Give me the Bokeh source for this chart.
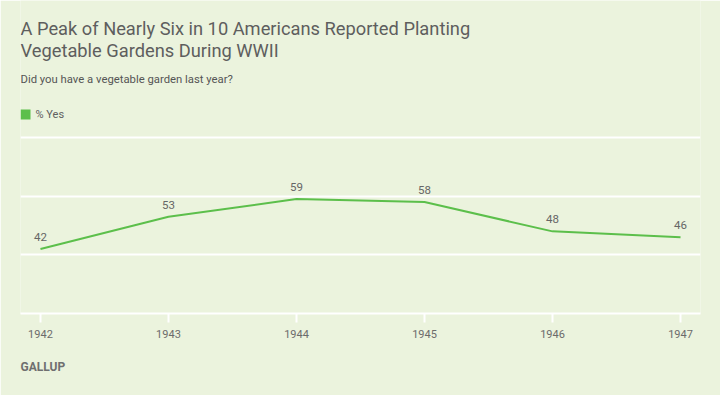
from bokeh.plotting import figure
from bokeh.models import Range1d, FixedTicker, Label, ColumnDataSource, Title, BoxAnnotation
from bokeh.core.properties import value
from bokeh.embed import file_html
from bokeh.resources import INLINE

years = [1942, 1943, 1944, 1945, 1946, 1947]
pct_yes = [42, 53, 59, 58, 48, 46]
y_ticks = [20, 40, 60, 80]
title_lines = ["A Peak of Nearly Six in 10 Americans Reported Planting",
               "Vegetable Gardens During WWII"]
subtitle = "Did you have a vegetable garden last year?"
series_name = "% Yes"
source_name = "GALLUP"

BG = "#EBF3DD"
GREEN = "#5CBF4B"
FONT = "Roboto"

W, H = 720, 395
FRAME_H = 313          # frame from canvas top down to the axis line
GRID_TOP_PX = 137      # pixel position of the top gridline
y_end = y_ticks[-1] + GRID_TOP_PX * (y_ticks[-1] - y_ticks[0]) / (FRAME_H - GRID_TOP_PX)
pad = 0.156

p = figure(width=W, height=H, output_backend="svg", toolbar_location=None,
           x_range=Range1d(years[0] - pad, years[-1] + pad),
           y_range=Range1d(y_ticks[0], y_end),
           min_border_left=20, min_border_right=20, min_border_top=0,
           min_border_bottom=H - FRAME_H)
p.background_fill_color = BG
p.border_fill_color = BG
p.outline_line_color = None

p.xgrid.visible = False
p.yaxis.visible = False
p.ygrid.ticker = FixedTicker(ticks=y_ticks)
p.ygrid.grid_line_color = "white"
p.ygrid.grid_line_width = 2

p.xaxis.ticker = FixedTicker(ticks=years)
p.xaxis.axis_line_color = "white"
p.xaxis.axis_line_width = 2
p.xaxis.major_tick_line_color = "white"
p.xaxis.major_tick_line_width = 2
p.xaxis.major_tick_in = 0
p.xaxis.major_tick_out = 9
p.xaxis.minor_tick_line_color = None
p.xaxis.major_label_standoff = 7
p.xaxis.major_label_text_font = FONT
p.xaxis.major_label_text_font_size = "11px"
p.xaxis.major_label_text_color = "#6b6b6b"

p.add_layout(Title(text=source_name, align="left", text_font=FONT, text_font_size="12px",
                   text_color="#6f6f6f", text_font_style="bold", standoff=34), "below")

src = ColumnDataSource(dict(x=years, y=pct_yes, t=[str(v) for v in pct_yes]))
p.line("x", "y", source=src, line_color=GREEN, line_width=2)
p.text("x", "y", text="t", source=src, text_align="center", text_baseline="bottom",
       y_offset=-8, text_font_size="11.5px", text_color="#666666", text_font=value(FONT))

# legend: swatch + label
p.add_layout(BoxAnnotation(left=20, right=30, top=109, bottom=119,
                           left_units="canvas", right_units="canvas",
                           top_units="canvas", bottom_units="canvas",
                           fill_color=GREEN, fill_alpha=1, line_color=None))
p.add_layout(Label(x=35, y=114, x_units="canvas", y_units="canvas", text=series_name,
                   text_font=FONT, text_font_size="11px", text_color="#606060",
                   text_baseline="middle"))

for txt, yy in zip(title_lines, [28, 50]):
    p.add_layout(Label(x=20, y=yy, x_units="canvas", y_units="canvas", text=txt,
                       text_font=FONT, text_font_size="18.3px", text_color="#5e5e5e",
                       text_baseline="middle"))
p.add_layout(Label(x=20, y=79, x_units="canvas", y_units="canvas", text=subtitle,
                   text_font=FONT, text_font_size="11.3px", text_color="#555555",
                   text_baseline="middle"))

open("out.html", "w").write(file_html(p, INLINE))
